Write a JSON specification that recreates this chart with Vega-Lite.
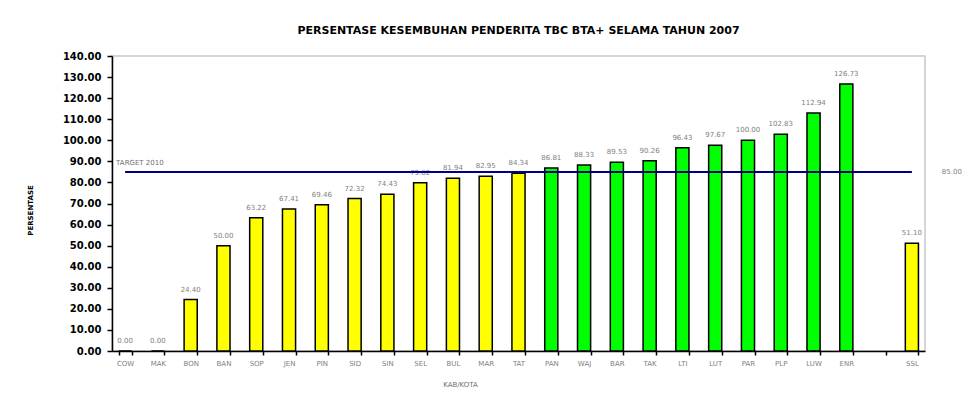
{
  "$schema": "https://vega.github.io/schema/vega-lite/v6.json",
  "width": 813,
  "height": 295,
  "autosize": {"type": "none"},
  "padding": {"left": 112, "top": 56, "right": 53, "bottom": 49},
  "background": "white",
  "config": {
    "font": "DejaVu Sans",
    "view": {"stroke": "#c8c8c8", "strokeWidth": 1.5},
    "axisY": {
      "titleFontSize": 7,
      "titleFontWeight": "bold",
      "titleColor": "black",
      "titleX": -82,
      "titleY": 154,
      "titleAlign": "center",
      "titleBaseline": "middle",
      "labelFontSize": 10,
      "labelFontWeight": "bold",
      "labelColor": "black",
      "labelPadding": 6,
      "labelOverlap": false,
      "labelBound": false,
      "grid": false,
      "domainColor": "black",
      "domainWidth": 1.5,
      "tickColor": "black",
      "tickWidth": 1.5,
      "tickSize": 5
    }
  },
  "title": {
    "text": "PERSENTASE KESEMBUHAN PENDERITA TBC BTA+ SELAMA TAHUN 2007",
    "fontSize": 11,
    "fontWeight": "bold",
    "color": "black",
    "anchor": "middle",
    "offset": 15
  },
  "datasets": {
    "kab": [
      {"kab": "COW", "value": 0.00},
      {"kab": "MAK", "value": 0.00},
      {"kab": "BON", "value": 24.40},
      {"kab": "BAN", "value": 50.00},
      {"kab": "SOP", "value": 63.22},
      {"kab": "JEN", "value": 67.41},
      {"kab": "PIN", "value": 69.46},
      {"kab": "SID", "value": 72.32},
      {"kab": "SIN", "value": 74.43},
      {"kab": "SEL", "value": 79.82},
      {"kab": "BUL", "value": 81.94},
      {"kab": "MAR", "value": 82.95},
      {"kab": "TAT", "value": 84.34},
      {"kab": "PAN", "value": 86.81},
      {"kab": "WAJ", "value": 88.33},
      {"kab": "BAR", "value": 89.53},
      {"kab": "TAK", "value": 90.26},
      {"kab": "LTI", "value": 96.43},
      {"kab": "LUT", "value": 97.67},
      {"kab": "PAR", "value": 100.00},
      {"kab": "PLP", "value": 102.83},
      {"kab": "LUW", "value": 112.94},
      {"kab": "ENR", "value": 126.73},
      {"kab": " ", "value": null},
      {"kab": "SSL", "value": 51.10}
    ],
    "target": [
      {"label": "TARGET 2010", "target": 85.00, "from": "COW", "to": "SSL"}
    ]
  },
  "layer": [
    {
      "data": {"name": "kab"},
      "mark": {"type": "bar", "stroke": "black", "strokeWidth": 1.5},
      "encoding": {
        "x": {
          "field": "kab",
          "type": "nominal",
          "sort": null,
          "scale": {
            "domain": ["COW","MAK","BON","BAN","SOP","JEN","PIN","SID","SIN","SEL","BUL","MAR","TAT","PAN","WAJ","BAR","TAK","LTI","LUT","PAR","PLP","LUW","ENR"," ","SSL"],
            "paddingInner": 0.6,
            "paddingOuter": 0.2
          },
          "axis": {
            "title": "KAB/KOTA",
            "titleFontSize": 7,
            "titleFontWeight": "normal",
            "titleColor": "#707070",
            "titlePadding": 14,
            "titleX": 348,
            "labelAngle": 0,
            "labelFontSize": 7,
            "labelColor": "#808080",
            "labelPadding": 4,
            "labelOverlap": false,
            "domainColor": "black",
            "domainWidth": 1.5,
            "tickColor": "black",
            "tickWidth": 1.5,
            "tickSize": 4,
            "tickBand": "extent"
          }
        },
        "y": {
          "field": "value",
          "type": "quantitative",
          "scale": {"domain": [0, 140]},
          "axis": {"title": "PERSENTASE", "values": [0,10,20,30,40,50,60,70,80,90,100,110,120,130,140], "format": ".2f"}
        },
        "color": {
          "condition": {"test": "datum.value >= 85", "value": "#00FF00"},
          "value": "#FFFF00"
        }
      }
    },
    {
      "data": {"name": "kab"},
      "transform": [{"filter": "isValid(datum.value)"}],
      "mark": {"type": "text", "fontSize": 7, "color": "#808080", "dy": -7, "baseline": "bottom"},
      "encoding": {
        "x": {"field": "kab", "type": "nominal", "sort": null},
        "y": {"field": "value", "type": "quantitative", "axis": {"title": "PERSENTASE", "values": [0,10,20,30,40,50,60,70,80,90,100,110,120,130,140], "format": ".2f"}},
        "text": {"field": "value", "type": "quantitative", "format": ".2f"}
      }
    },
    {
      "data": {"name": "target"},
      "mark": {"type": "rule", "color": "#000080", "strokeWidth": 2},
      "encoding": {
        "x": {"field": "from", "type": "nominal", "bandPosition": 0.5},
        "x2": {"field": "to", "bandPosition": 0.5},
        "y": {"field": "target", "type": "quantitative", "axis": {"title": "PERSENTASE", "values": [0,10,20,30,40,50,60,70,80,90,100,110,120,130,140], "format": ".2f"}}
      }
    },
    {
      "data": {"name": "target"},
      "mark": {"type": "text", "fontSize": 7, "color": "#707070", "align": "left", "baseline": "bottom", "dy": -6, "dx": -9},
      "encoding": {
        "x": {"field": "from", "type": "nominal", "bandPosition": 0.5},
        "y": {"field": "target", "type": "quantitative", "axis": {"title": "PERSENTASE", "values": [0,10,20,30,40,50,60,70,80,90,100,110,120,130,140], "format": ".2f"}},
        "text": {"field": "label", "type": "nominal"}
      }
    },
    {
      "data": {"name": "target"},
      "mark": {"type": "text", "fontSize": 7, "color": "#808080", "align": "center", "baseline": "middle", "dx": 40},
      "encoding": {
        "x": {"field": "to", "type": "nominal", "bandPosition": 0.5},
        "y": {"field": "target", "type": "quantitative", "axis": {"title": "PERSENTASE", "values": [0,10,20,30,40,50,60,70,80,90,100,110,120,130,140], "format": ".2f"}},
        "text": {"field": "target", "type": "quantitative", "format": ".2f"}
      }
    }
  ]
}
